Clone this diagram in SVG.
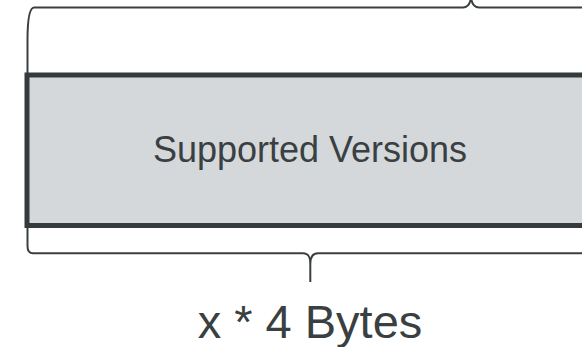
<svg xmlns="http://www.w3.org/2000/svg" width="582" height="347" viewBox="0 0 582 347">
  <style>
    .brace { fill: none; stroke: #3a3f42; stroke-width: 2; stroke-linejoin: round; }
    .field { fill: #d4d8db; stroke: #353a3d; stroke-width: 5; }
    .label { font-family: "Liberation Sans", Arial, sans-serif; fill: #3a3f42; text-anchor: middle; }
  </style>
  <rect width="582" height="347" fill="#ffffff"/>
  <g id="connectors">
    <!-- upper brace spanning the whole extension -->
    <path class="brace" d="M27.5,74 L27.5,40 C27.5,22 29,8 34,7.5 L463,7.5 C468,7.5 470,4 471,-2 C472,4 474,7.5 479,7.5 L600,7.5"/>
    <!-- lower brace under the field -->
    <path class="brace" d="M27.5,226 L27.5,246 C27.5,251 29,253.3 33,253.3 L303,253.3 C308,253.3 310.3,256 310.3,264 L310.3,282 M310.3,264 C310.3,256 313,253.3 318,253.3 L600,253.3"/>
  </g>
  <g id="supported-versions">
    <rect class="field" x="27" y="75" width="580" height="150.5"/>
    <text class="label" x="310" y="162" font-size="36">Supported Versions</text>
  </g>
  <g id="size-label">
    <text class="label" x="310" y="338" font-size="47">x * 4 Bytes</text>
  </g>
</svg>
